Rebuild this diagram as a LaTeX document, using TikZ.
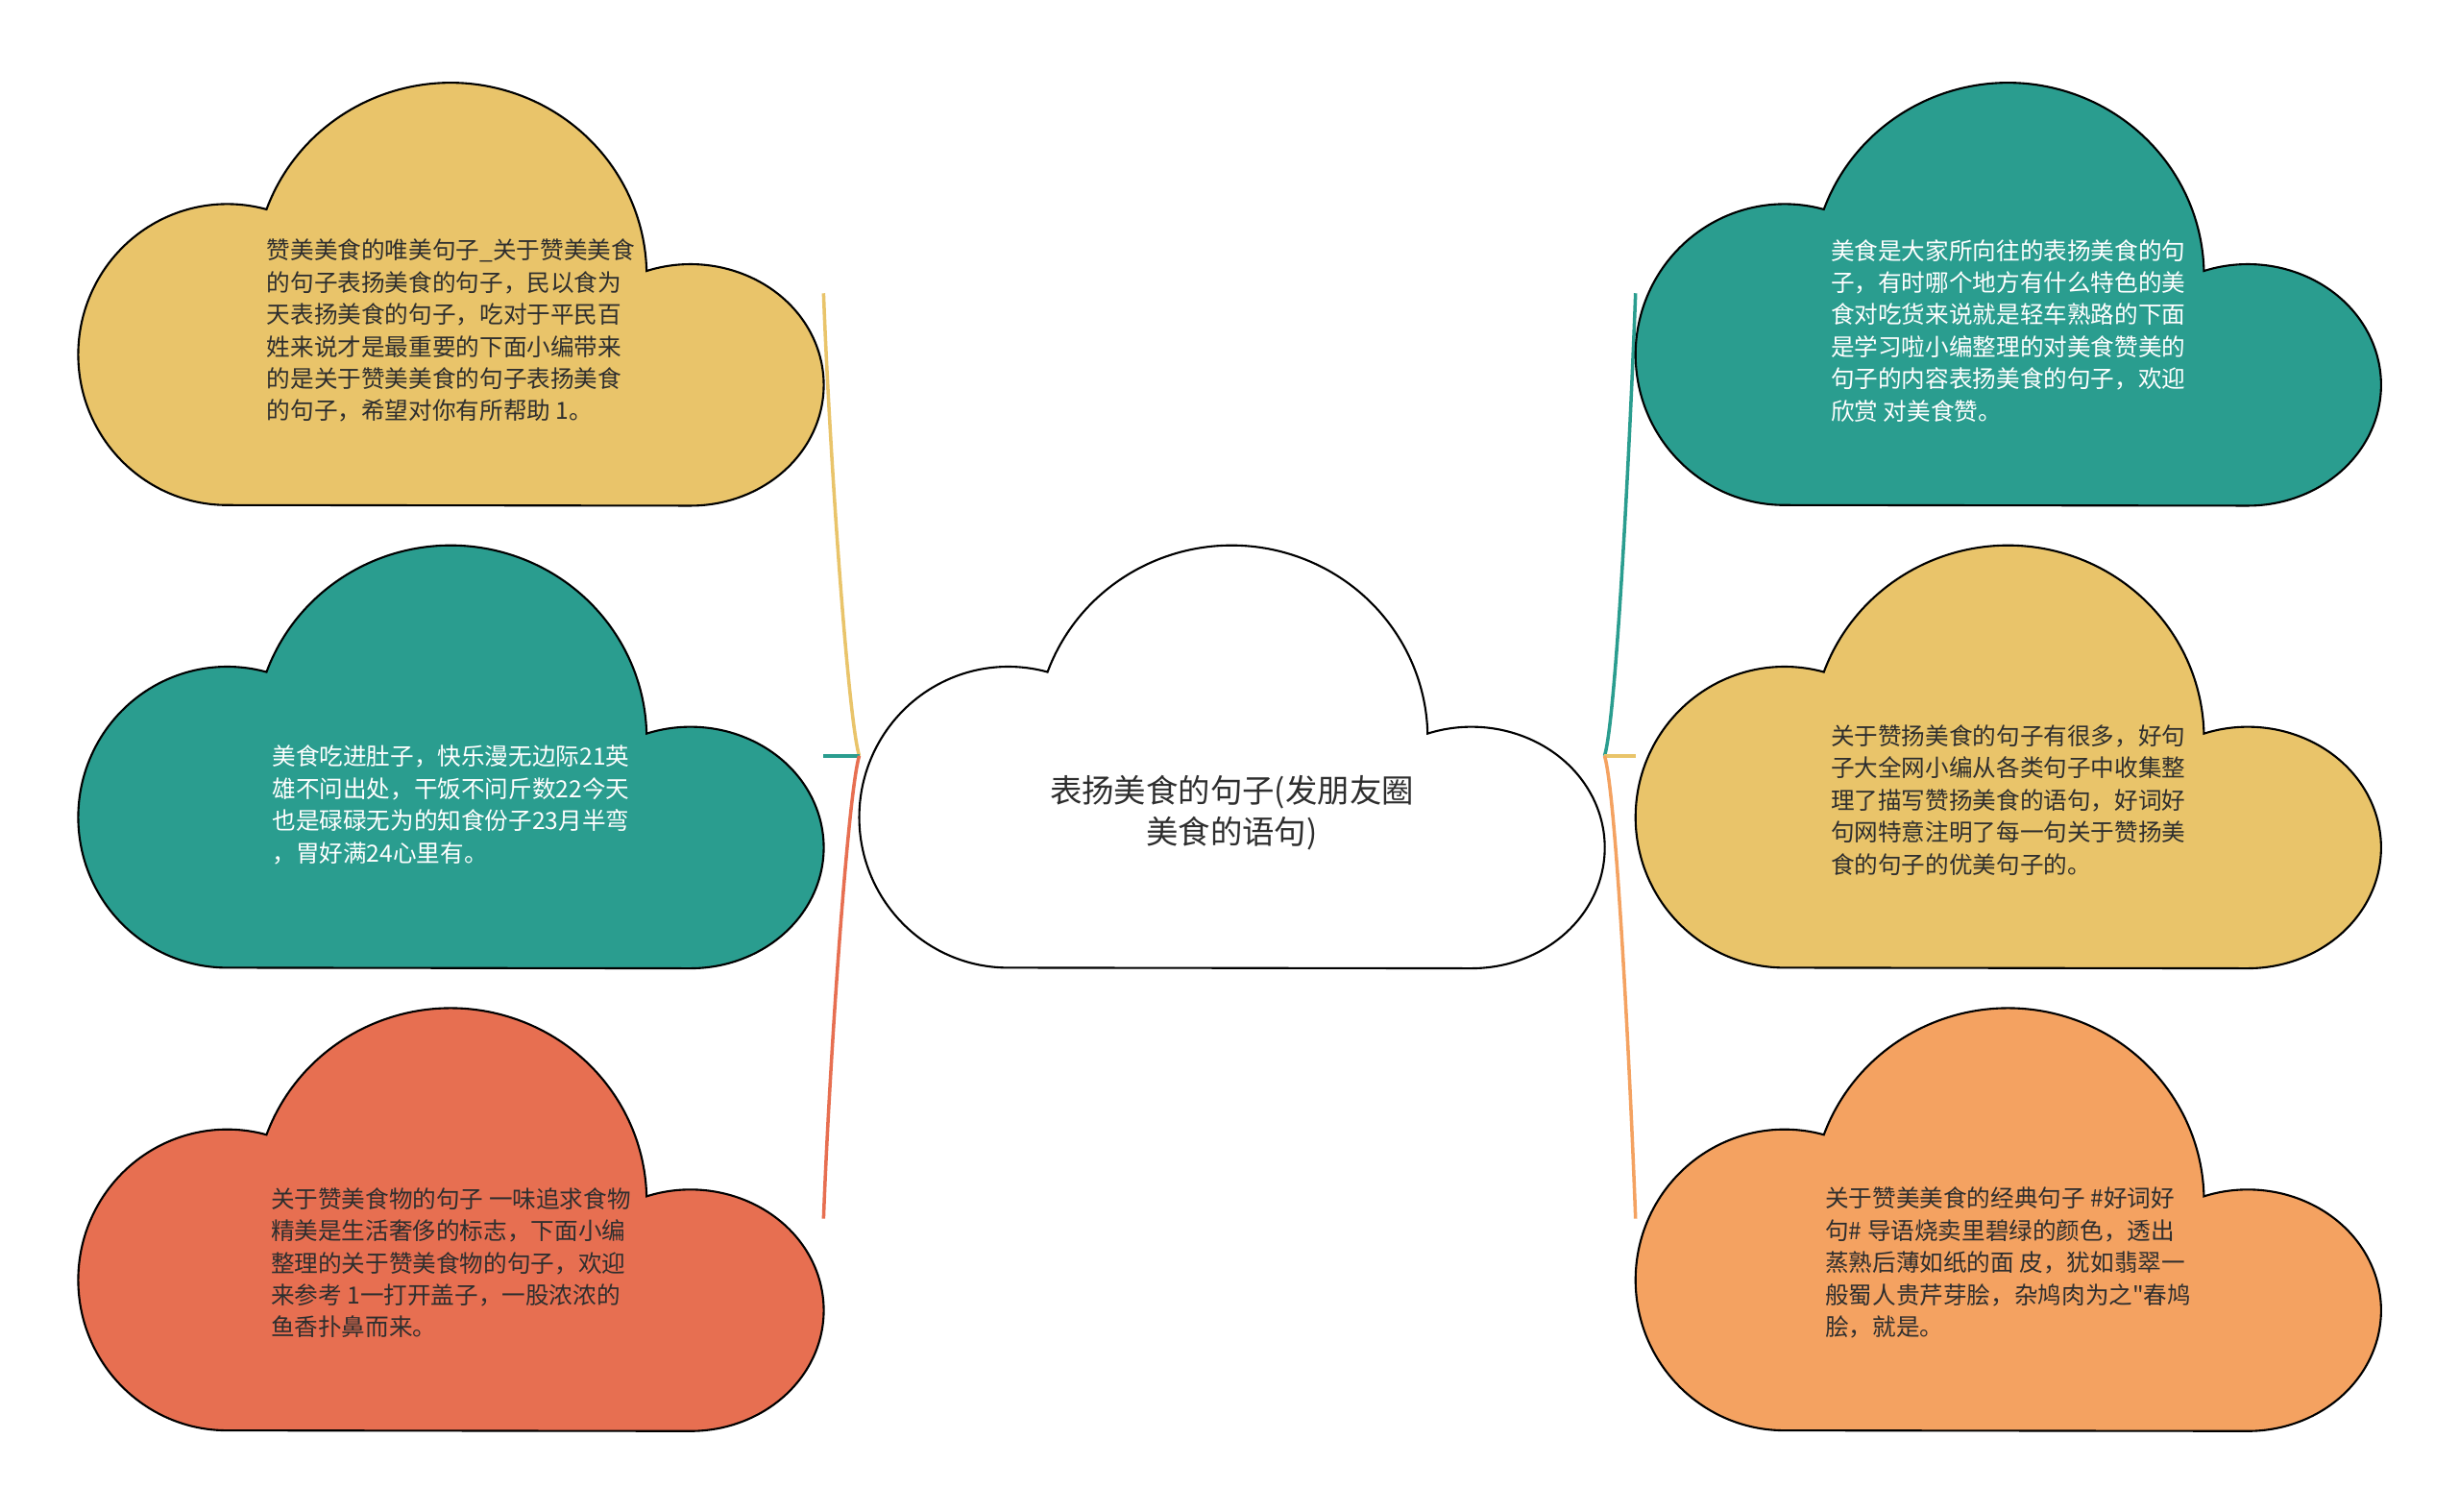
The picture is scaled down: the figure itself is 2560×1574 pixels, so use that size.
\documentclass[tikz,border=0pt]{standalone}
\usepackage{fontspec}
\setmainfont{Noto Sans CJK SC}
\newfontfamily\cjkplain{Noto Sans CJK SC}
\definecolor{cyellow}{HTML}{E9C46A}
\definecolor{cteal}{HTML}{2A9D8F}
\definecolor{cred}{HTML}{E76F51}
\definecolor{corange}{HTML}{F4A261}
\definecolor{ctext}{HTML}{2E2E2E}
\tikzset{
  cloudpic/.pic={
    \path[pic actions] (155.1,0)
      arc[start angle=270,end angle=74.7,x radius=155.1,y radius=156.7]
      arc[start angle=159.9,end angle=1.4,x radius=204.1,y radius=200.8]
      arc[start angle=109.2,end angle=-90,x radius=138.8,y radius=125.7] -- cycle;
  },
  bbox/.style={minimum width=7.755cm, minimum height=4.408cm, inner sep=0pt, outer sep=0pt},
  cloudline/.style={draw=black, line width=0.6pt},
  txt/.style={font=\cjkplain\fontsize{7pt}{9.5pt}\selectfont, align=left, inner sep=0pt},
  dtxt/.style={txt, text=ctext},
  wtxt/.style={txt, text=white},
  ctxt/.style={font=\cjkplain\fontsize{9.5pt}{12.1pt}\selectfont, align=center, inner sep=0pt, text=ctext},
  conn/.style={line width=1pt}
}
\begin{document}
\begin{tikzpicture}[x=0.01cm,y=0.01cm]
\useasboundingbox (0,0) rectangle (2560,1574);
\fill[white] (0,0) rectangle (2560,1574);
% bounding nodes
\node[bbox] (c)  at (1282.5,787.1) {};
\node[bbox] (tl) at (469.4,1268.7) {};
\node[bbox] (ml) at (469.4,787.1) {};
\node[bbox] (bl) at (469.4,305.4) {};
\node[bbox] (tr) at (2090.7,1268.7) {};
\node[bbox] (mr) at (2090.7,787.1) {};
\node[bbox] (br) at (2090.7,305.4) {};
% connectors
\draw[conn, cyellow] (c.west) .. controls +(-12,40) and +(6,-160) .. (tl.east);
\draw[conn, cteal] (c.west) -- (ml.east);
\draw[conn, cred] (c.west) .. controls +(-12,-40) and +(6,160) .. (bl.east);
\draw[conn, cteal] (c.east) .. controls +(12,40) and +(-6,-160) .. (tr.west);
\draw[conn, cyellow] (c.east) -- (mr.west);
\draw[conn, corange] (c.east) .. controls +(12,-40) and +(-6,160) .. (br.west);
% clouds
\pic[cloudline, fill=white]   at (c.south west)  {cloudpic};
\pic[cloudline, fill=cyellow] at (tl.south west) {cloudpic};
\pic[cloudline, fill=cteal]   at (ml.south west) {cloudpic};
\pic[cloudline, fill=cred]    at (bl.south west) {cloudpic};
\pic[cloudline, fill=cteal]   at (tr.south west) {cloudpic};
\pic[cloudline, fill=cyellow] at (mr.south west) {cloudpic};
\pic[cloudline, fill=corange] at (br.south west) {cloudpic};
% texts
\node[ctxt] (ct) at ([yshift=-0.59cm]c.center) {表扬美食的句子(发朋友圈\\美食的语句)};
\node[dtxt] (tlt) at ([yshift=-0.39cm]tl.center) {赞美美食的唯美句子\_关于赞美美食\\的句子表扬美食的句子，民以食为\\天表扬美食的句子，吃对于平民百\\姓来说才是最重要的下面小编带来\\的是关于赞美美食的句子表扬美食\\的句子，希望对你有所帮助 1。};
\node[wtxt] (mlt) at ([yshift=-0.51cm]ml.center) {美食吃进肚子，快乐漫无边际21英\\雄不问出处，干饭不问斤数22今天\\也是碌碌无为的知食份子23月半弯\\，胃好满24心里有。};
\node[dtxt] (blt) at ([yshift=-0.46cm]bl.center) {关于赞美食物的句子 一味追求食物\\精美是生活奢侈的标志，下面小编\\整理的关于赞美食物的句子，欢迎\\来参考 1一打开盖子，一股浓浓的\\鱼香扑鼻而来。};
\node[wtxt] (trt) at ([yshift=-0.39cm]tr.center) {美食是大家所向往的表扬美食的句\\子，有时哪个地方有什么特色的美\\食对吃货来说就是轻车熟路的下面\\是学习啦小编整理的对美食赞美的\\句子的内容表扬美食的句子，欢迎\\欣赏 对美食赞。};
\node[dtxt] (mrt) at ([yshift=-0.46cm]mr.center) {关于赞扬美食的句子有很多，好句\\子大全网小编从各类句子中收集整\\理了描写赞扬美食的语句，好词好\\句网特意注明了每一句关于赞扬美\\食的句子的优美句子的。};
\node[dtxt] (brt) at ([yshift=-0.46cm]br.center) {关于赞美美食的经典句子 \#好词好\\句\# 导语烧卖里碧绿的颜色，透出\\蒸熟后薄如纸的面 皮，犹如翡翠一\\般蜀人贵芹芽脍，杂鸠肉为之"春鸠\\脍，就是。};
\end{tikzpicture}
\end{document}
